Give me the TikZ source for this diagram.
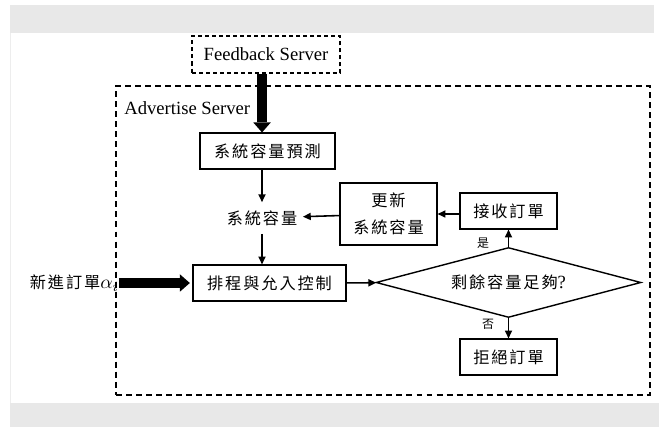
\documentclass[tikz,border=0pt]{standalone}
\usepackage{fontspec}
\setmainfont{Liberation Serif}
\newfontfamily\cjk[LetterSpace=12]{Noto Sans CJK TC}
\usetikzlibrary{positioning,arrows.meta,shapes.geometric}
\definecolor{barGray}{HTML}{E8E8E8}
\definecolor{edgeGray}{HTML}{EDEDED}

\begin{document}
\begin{tikzpicture}[x=0.2mm, y=-0.2mm, font=\cjk\fontsize{9.2}{15}\selectfont,
    latin/.style={font=\rmfamily\fontsize{10.6}{13}\selectfont},
    procbox/.style={draw, line width=0.6pt, minimum width=19.4mm, minimum height=7.2mm, inner sep=1pt},
    servbox/.style={draw, dashed, inner sep=0pt},
    decision/.style={draw, diamond, aspect=3.8, line width=0.8pt, minimum width=53mm, minimum height=14mm, inner sep=0pt},
    tag/.style={font=\cjk\fontsize{6.8}{8}\selectfont, inner sep=0pt},
    flow/.style={-{Triangle[width=4pt,length=4.5pt]}, line width=0.9pt},
    fatarrow/.style={-{Triangle[width=3.5mm,length=2mm,line width=0pt]}, line width=1.85mm}]
  \useasboundingbox (0,0) rectangle (659,427);
  % page bars
  \fill[barGray] (10,5) rectangle (654,33);
  \fill[barGray] (10,403) rectangle (659,427);
  \draw[edgeGray] (10,33) -- (10,403);

  % servers
  \node[servbox, latin, line width=0.6pt, dash pattern=on 2.3pt off 1.7pt,
        minimum width=29.6mm, minimum height=7.4mm] (fbServer) at (266,54.5) {Feedback Server};
  \node[servbox, line width=1pt, dash pattern=on 3.4pt off 2.3pt,
        minimum width=106.8mm, minimum height=61.8mm] (adServer) at (383,240.5) {};
  \node[latin, anchor=west, inner sep=0pt] (adLabel) at (124,108) {Advertise Server};

  % flow inside the advertise server
  \node[procbox, minimum width=27mm] (predict) at (267.5,151) {系統容量預測};
  \node[inner xsep=3pt, inner ysep=4.5pt] (capacity) at (262,218) {系統容量};
  \node[procbox, minimum width=30.6mm] (sched) at (269.5,283) {排程與允入控制};
  \node[procbox, minimum height=12.4mm, align=center] (update) at (388.5,214) {更新\\系統容量};
  \node[procbox] (recv) at (508.5,211) {接收訂單};
  \node[decision] (check) at (508.5,282.5) {剩餘容量足夠{\rmfamily\fontsize{10.6}{13}\selectfont ?}};
  \node[procbox] (reject) at (508.5,357) {拒絕訂單};
  \node[anchor=east, inner sep=0pt] (newOrder) at (119,283) {新進訂單{\fontsize{11}{13}\selectfont$\alpha_i$}};
  \node[tag] (yes) at (483,243) {是};
  \node[tag] (no) at (488,324) {否};

  \draw[fatarrow] (fbServer.south -| capacity) -- (predict.north -| capacity);
  \draw[fatarrow, line width=1.95mm, shorten >=1.5pt] (newOrder.east) -- (sched.west);
  \draw[flow] (predict.south -| capacity) -- (capacity);
  \draw[flow] (capacity) -- (sched.north -| capacity);
  \draw[flow] (update.east -| recv.west) -- (update.east);
  \draw[flow] (update) -- (capacity);
  \draw[flow] (sched) -- (check);
  \draw[flow] (check.north) -- (recv);
  \draw[flow] (check.south) -- (reject);
\end{tikzpicture}
\end{document}
